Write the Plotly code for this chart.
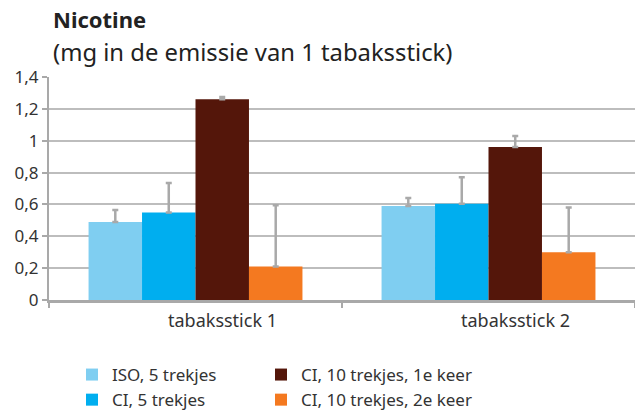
import plotly.graph_objects as go

categories = ["tabaksstick 1", "tabaksstick 2"]
series_names = ["ISO, 5 trekjes", "CI, 5 trekjes", "CI, 10 trekjes, 1e keer", "CI, 10 trekjes, 2e keer"]
iso_5 = [0.49, 0.59]
ci_5 = [0.55, 0.605]
ci_10_1 = [1.26, 0.96]
ci_10_2 = [0.21, 0.30]
iso_5_err = [0.075, 0.05]
ci_5_err = [0.185, 0.165]
ci_10_1_err = [0.015, 0.07]
ci_10_2_err = [0.385, 0.28]
colors = ["#7FCEF1", "#00AEEF", "#54160A", "#F47920"]
y_tickvals = [0, 0.2, 0.4, 0.6, 0.8, 1.0, 1.2, 1.4]
y_ticktext = ["0", "0,2", "0,4", "0,6", "0,8", "1", "1,2", "1,4"]

values = [iso_5, ci_5, ci_10_1, ci_10_2]
errors = [iso_5_err, ci_5_err, ci_10_1_err, ci_10_2_err]
legends = ["legend", "legend", "legend2", "legend2"]

FONT = "Noto Sans"
TXT = "#333333"
fig = go.Figure()
for name, v, e, c, lg in zip(series_names, values, errors, colors, legends):
    fig.add_trace(go.Bar(
        x=categories, y=v, name=name, marker=dict(color=c, line=dict(width=0)),
        error_y=dict(type="data", array=e, symmetric=False, arrayminus=[0] * len(e),
                     color="#A9A9A9", thickness=2.5, width=3),
        legend=lg,
    ))

legend_common = dict(xref="container", yref="container", xanchor="left", yanchor="top",
                     orientation="v", font=dict(size=17, color=TXT, family=FONT),
                     tracegroupgap=0, itemwidth=30, bgcolor="rgba(0,0,0,0)")

fig.update_layout(
    width=635, height=412,
    margin=dict(l=49, r=0, t=77, b=112, autoexpand=False),
    paper_bgcolor="white", plot_bgcolor="white",
    barmode="group", bargap=0.27, bargroupgap=0,
    font=dict(family=FONT, size=15, color=TXT),
    showlegend=True,
    legend=dict(x=72 / 635, y=1 - 357 / 412, **legend_common),
    legend2=dict(x=261 / 635, y=1 - 357 / 412, **legend_common),
)
fig.add_annotation(text="<b>Nicotine</b>", xref="paper", yref="paper", x=0.004, y=(300 - 19) / 223,
                   xanchor="left", yanchor="middle", showarrow=False,
                   font=dict(size=22, color="#222222", family=FONT))
fig.add_annotation(text="(mg in de emissie van 1 tabaksstick)", xref="paper", yref="paper",
                   x=0.004, y=(300 - 52) / 223, xanchor="left", yanchor="middle", showarrow=False,
                   font=dict(size=23.8, color="#222222", family=FONT))

fig.update_yaxes(range=[0, 1.4], tickvals=y_tickvals, ticktext=y_ticktext, automargin=False,
                 showgrid=True, gridcolor="#BDBDBD", gridwidth=1.5,
                 showline=True, linecolor="#A9A9A9", linewidth=2,
                 ticks="outside", ticklen=5, tickcolor="#A9A9A9", tickwidth=2,
                 zeroline=False, tickfont=dict(size=17, color=TXT))
fig.update_xaxes(showline=True, linecolor="#A9A9A9", linewidth=2.5, automargin=False,
                 ticks="outside", tickson="boundaries", ticklen=5, tickcolor="#A9A9A9", tickwidth=2,
                 ticklabelshift=27, ticklabelstandoff=3, tickfont=dict(size=18, color=TXT))

fig.write_html("out.html", config={"displayModeBar": False},
               post_script="document.body.style.margin='0';")
